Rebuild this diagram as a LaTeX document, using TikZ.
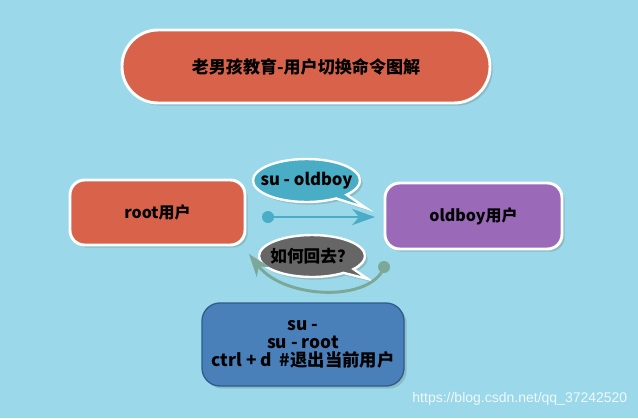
\documentclass[tikz,border=0pt]{standalone}
\usepackage{fontspec}
\setmainfont{Noto Sans CJK SC}
\newfontfamily\wmfont{Liberation Sans}
\usetikzlibrary{shapes.callouts,shadows,arrows.meta}
\definecolor{bgc}{HTML}{9AD8EA}
\definecolor{redc}{HTML}{D9634A}
\definecolor{purc}{HTML}{9A69B8}
\definecolor{bluec}{HTML}{4A80BA}
\definecolor{blueb}{HTML}{2E5C8D}
\definecolor{tealc}{HTML}{4AADC6}
\definecolor{grayc}{HTML}{666666}
\definecolor{greenc}{HTML}{7CA897}
\definecolor{arrc}{HTML}{4BACC6}
\tikzset{
  boxshadow/.style={drop shadow={shadow xshift=2pt,shadow yshift=-2pt,opacity=0.25,fill=black!60}},
  wbox/.style={draw=white,line width=2.2pt,boxshadow,font=\fontsize{12}{14}\selectfont\bfseries,align=center,inner sep=0pt},
  bubble/.style={ellipse callout,draw=white,line width=1.8pt,boxshadow,inner sep=0pt,font=\fontsize{12.5}{14}\selectfont\bfseries},
  conn/.style={line width=2.2pt,line cap=round},
  dotc/.style={circle,inner sep=0pt,minimum size=9pt}
}
\begin{document}
\begin{tikzpicture}[x=0.75pt,y=-0.75pt]
\useasboundingbox[fill=bgc] (0,0) rectangle (638,418);
\node[wbox,fill=redc,minimum width=276pt,minimum height=54.75pt,rounded corners=27pt,font=\fontsize{12.8}{14}\selectfont\bfseries] (title) at (306,66.5) {老男孩教育-用户切换命令图解};
\node[wbox,fill=redc,minimum width=131.25pt,minimum height=48.75pt,rounded corners=11pt] (root) at (157.5,212.5) {root用户};
\node[wbox,fill=purc,minimum width=132.75pt,minimum height=49.5pt,rounded corners=11pt] (oldboy) at (473.5,216) {oldboy用户};
\node[draw=blueb,line width=1pt,fill=bluec,boxshadow,minimum width=151.5pt,minimum height=62.25pt,rounded corners=13.5pt,align=center,inner sep=0pt,font=\fontsize{13}{13.3}\selectfont\bfseries] (cmds) at (303,344.5) {su -\\su - root\\ctrl + d\ \ \#退出当前用户};
\node[bubble,fill=tealc,minimum width=80.25pt,minimum height=32.25pt,callout absolute pointer={(366,208)}] (b1) at (306.5,180.5) {\makebox[0pt][c]{su - oldboy}};
\node[bubble,fill=grayc,minimum width=79.5pt,minimum height=31.5pt,callout absolute pointer={(368,279)}] (b2) at (312,256) {\makebox[0pt][c]{如何回去？}};
% arrow 1
\coordinate (a1s) at (268,217);
\coordinate (a1e) at (375,217);
\draw[conn,arrc,-{Stealth[length=17pt,width=12pt,inset=5pt]}] (a1s) -- (a1e);
\node[dotc,fill=arrc] (d1) at (a1s) {};
% arrow 2
\coordinate (a2s) at (384,267);
\coordinate (a2e) at (249,254);
\draw[conn,greenc,-{Stealth[length=17pt,width=12pt,inset=5pt]}] (a2s) .. controls (372,302) and (285,300) .. (a2e);
\node[dotc,fill=greenc] (d2) at (a2s) {};
\node[text=white!85!bgc,font=\wmfont\fontsize{10.5}{12}\selectfont,anchor=east] (wm) at (632,399) {https://blog.csdn.net/qq\_37242520};
\end{tikzpicture}
\end{document}
